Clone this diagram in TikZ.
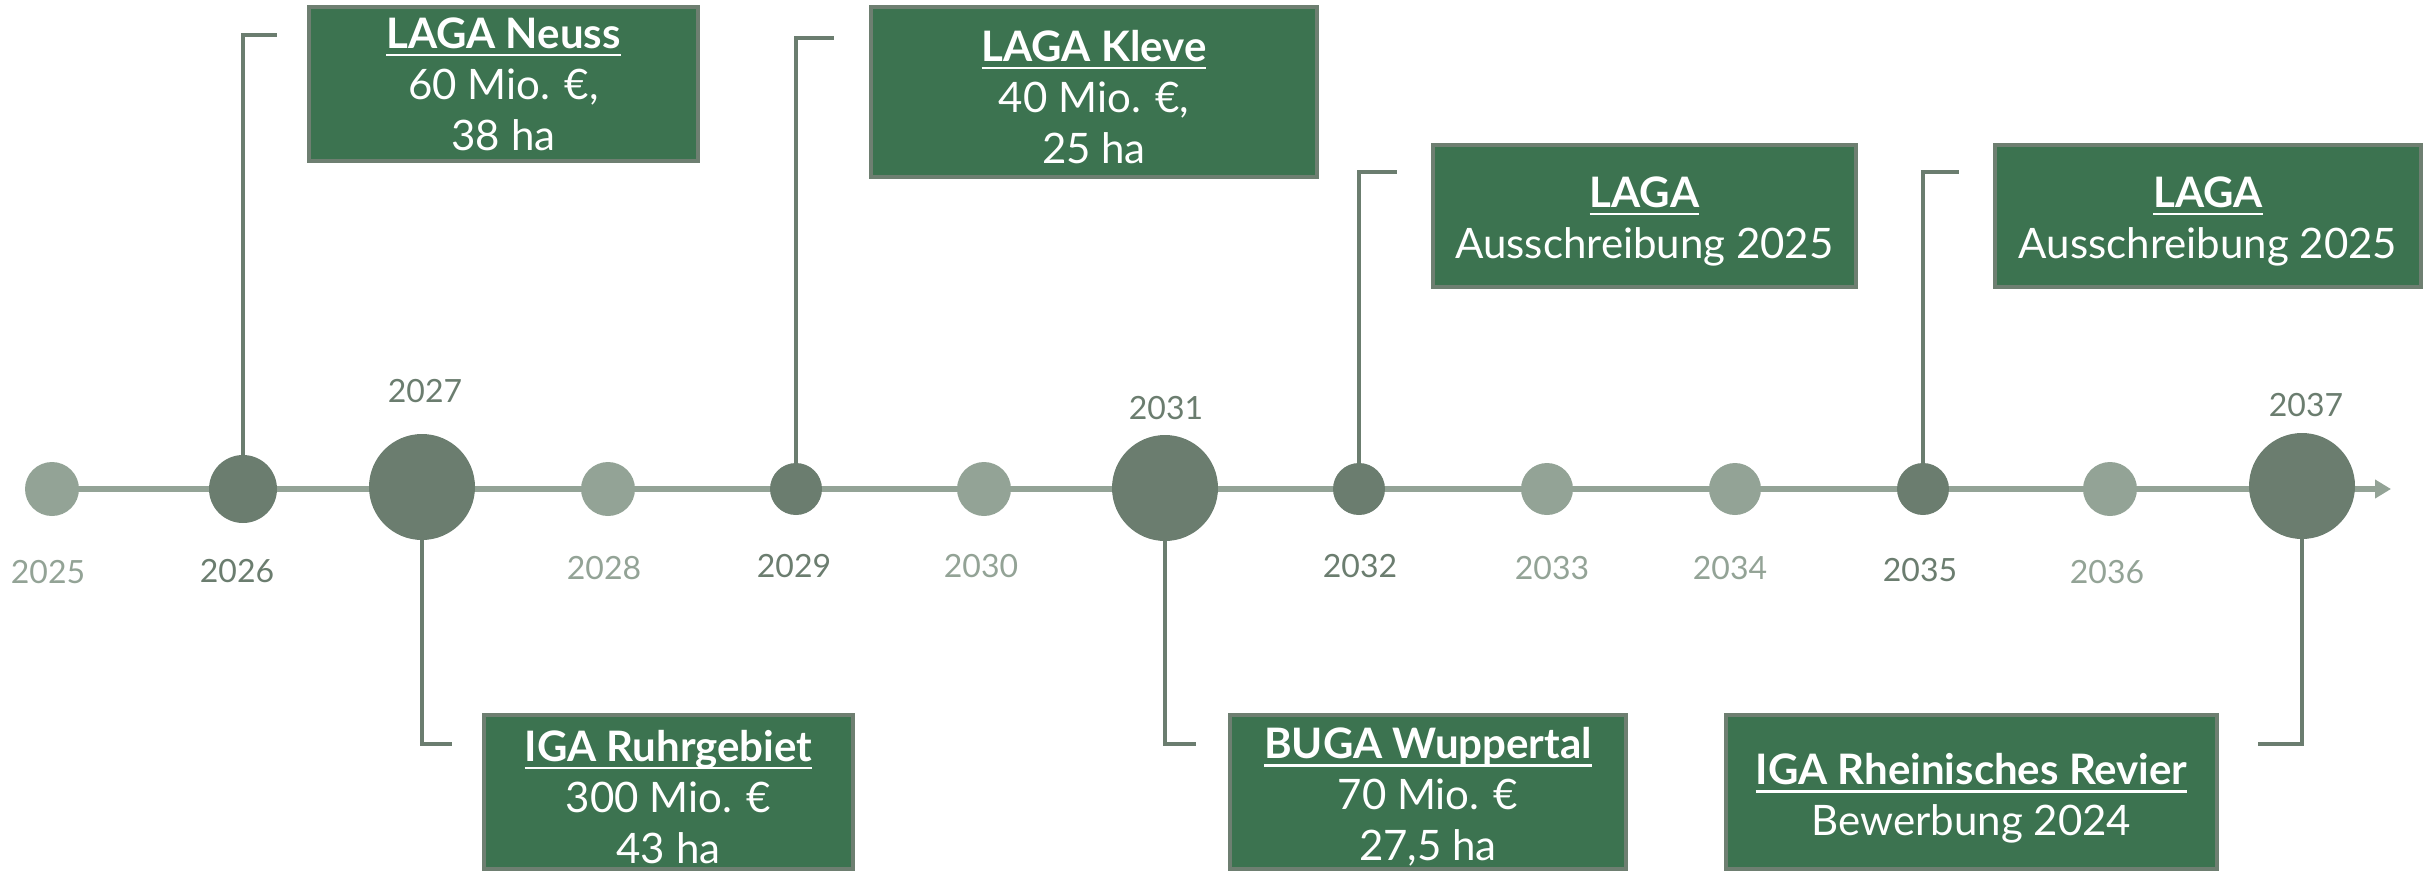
\documentclass[tikz,border=0pt]{standalone}
\usepackage{fontspec}
\setmainfont{Lato}
\usetikzlibrary{arrows.meta}
\definecolor{boxgreen}{HTML}{3C7350}
\definecolor{boxedge}{HTML}{6E7F71}
\definecolor{darkdot}{HTML}{6B7D6F}
\definecolor{lightdot}{HTML}{93A396}
\newsavebox\ulbox
\newcommand\ulin[1]{\sbox\ulbox{#1}\rlap{\rule[-4pt]{\wd\ulbox}{1.1pt}}\usebox\ulbox}
\newcommand\topstrut{\rule{0pt}{20.5pt}}
\begin{document}
\begin{tikzpicture}[x=0.5pt,y=-0.5pt,
  dotdark/.style={circle,fill=darkdot,inner sep=0pt},
  dotlight/.style={circle,fill=lightdot,inner sep=0pt},
  yrdark/.style={text=darkdot,inner sep=0pt,font=\fontsize{16}{16}\selectfont},
  yrlight/.style={text=lightdot,inner sep=0pt,font=\fontsize{16}{16}\selectfont},
  infobox/.style={draw=boxedge,line width=2pt,fill=boxgreen,text=white,align=center,inner sep=0pt,font=\fontsize{21}{25.5}\selectfont},
  conn/.style={draw=darkdot,line width=1.75pt},
  axisline/.style={draw=lightdot,line width=3pt}
]
\useasboundingbox (0,0) rectangle (2432,873);

% axis
\coordinate (tip) at (2391,489);
\coordinate (axstart) at (52,489);
\draw[axisline,-{Triangle[length=8pt,width=9pt]}] (axstart) -- (tip);

% connector end points
\coordinate (e2026) at (277,35);
\coordinate (e2029) at (834,38);
\coordinate (e2032) at (1397,172);
\coordinate (e2035) at (1959,172);
\coordinate (e2027) at (452,744);
\coordinate (e2031) at (1196,744);
\coordinate (e2037) at (2258,744);

% circles
\node[dotlight,minimum size=27pt] (c2025) at (52,489) {};
\node[dotdark,minimum size=34pt] (c2026) at (243,489) {};
\node[dotdark,minimum size=53pt] (c2027) at (422,487) {};
\node[dotlight,minimum size=27pt] (c2028) at (608,489) {};
\node[dotdark,minimum size=26pt] (c2029) at (796,489) {};
\node[dotlight,minimum size=27pt] (c2030) at (984,489) {};
\node[dotdark,minimum size=53pt] (c2031) at (1165,488) {};
\node[dotdark,minimum size=26pt] (c2032) at (1359,489) {};
\node[dotlight,minimum size=26pt] (c2033) at (1547,489) {};
\node[dotlight,minimum size=26pt] (c2034) at (1735,489) {};
\node[dotdark,minimum size=26pt] (c2035) at (1923,489) {};
\node[dotlight,minimum size=27pt] (c2036) at (2110,489) {};
\node[dotdark,minimum size=53pt] (c2037) at (2302,486) {};

% connectors
\draw[conn] (c2026.north) |- (e2026);
\draw[conn] (c2029.north) |- (e2029);
\draw[conn] (c2032.north) |- (e2032);
\draw[conn] (c2035.north) |- (e2035);
\draw[conn] (c2027.south) |- (e2027);
\draw[conn] (c2031.south) |- (e2031);
\draw[conn] (c2037.south) |- (e2037);

% year labels
\node[yrlight] (y2025) at (48,572) {2025};
\node[yrdark]  (y2026) at (237,571) {2026};
\node[yrdark]  (y2027) at (425,391) {2027};
\node[yrlight] (y2028) at (604,568) {2028};
\node[yrdark]  (y2029) at (794,566) {2029};
\node[yrlight] (y2030) at (981,566) {2030};
\node[yrdark]  (y2031) at (1166,408) {2031};
\node[yrdark]  (y2032) at (1360,566) {2032};
\node[yrlight] (y2033) at (1552,568) {2033};
\node[yrlight] (y2034) at (1730,568) {2034};
\node[yrdark]  (y2035) at (1920,570) {2035};
\node[yrlight] (y2036) at (2107,572) {2036};
\node[yrdark]  (y2037) at (2306,405) {2037};

% boxes
\node[infobox,minimum width=194.5pt,minimum height=77pt] (neuss) at (503.5,84)
  {\ulin{\textbf{LAGA Neuss}}\\60 Mio. €,\\38 ha};
\node[infobox,minimum width=223pt,minimum height=85pt] (kleve) at (1094,92)
  {\topstrut\ulin{\textbf{LAGA Kleve}}\\40 Mio. €,\\25 ha};
\node[infobox,minimum width=211.5pt,minimum height=71pt] (aus1) at (1644.5,216)
  {\topstrut\ulin{\textbf{LAGA}}\\Ausschreibung 2025};
\node[infobox,minimum width=213pt,minimum height=71pt] (aus2) at (2208,216)
  {\topstrut\ulin{\textbf{LAGA}}\\Ausschreibung 2025};
\node[infobox,minimum width=184.5pt,minimum height=77pt] (ruhr) at (668.5,792)
  {\topstrut\ulin{\textbf{IGA Ruhrgebiet}}\\300 Mio. €\\43 ha};
\node[infobox,minimum width=198pt,minimum height=77pt] (buga) at (1428,792)
  {\topstrut\ulin{\textbf{BUGA Wuppertal}}\\70 Mio. €\\27,5 ha};
\node[infobox,minimum width=245.5pt,minimum height=77pt] (revier) at (1971.5,792)
  {\rule{0pt}{22pt}\ulin{\textbf{IGA Rheinisches Revier}}\\Bewerbung 2024};
\end{tikzpicture}
\end{document}
